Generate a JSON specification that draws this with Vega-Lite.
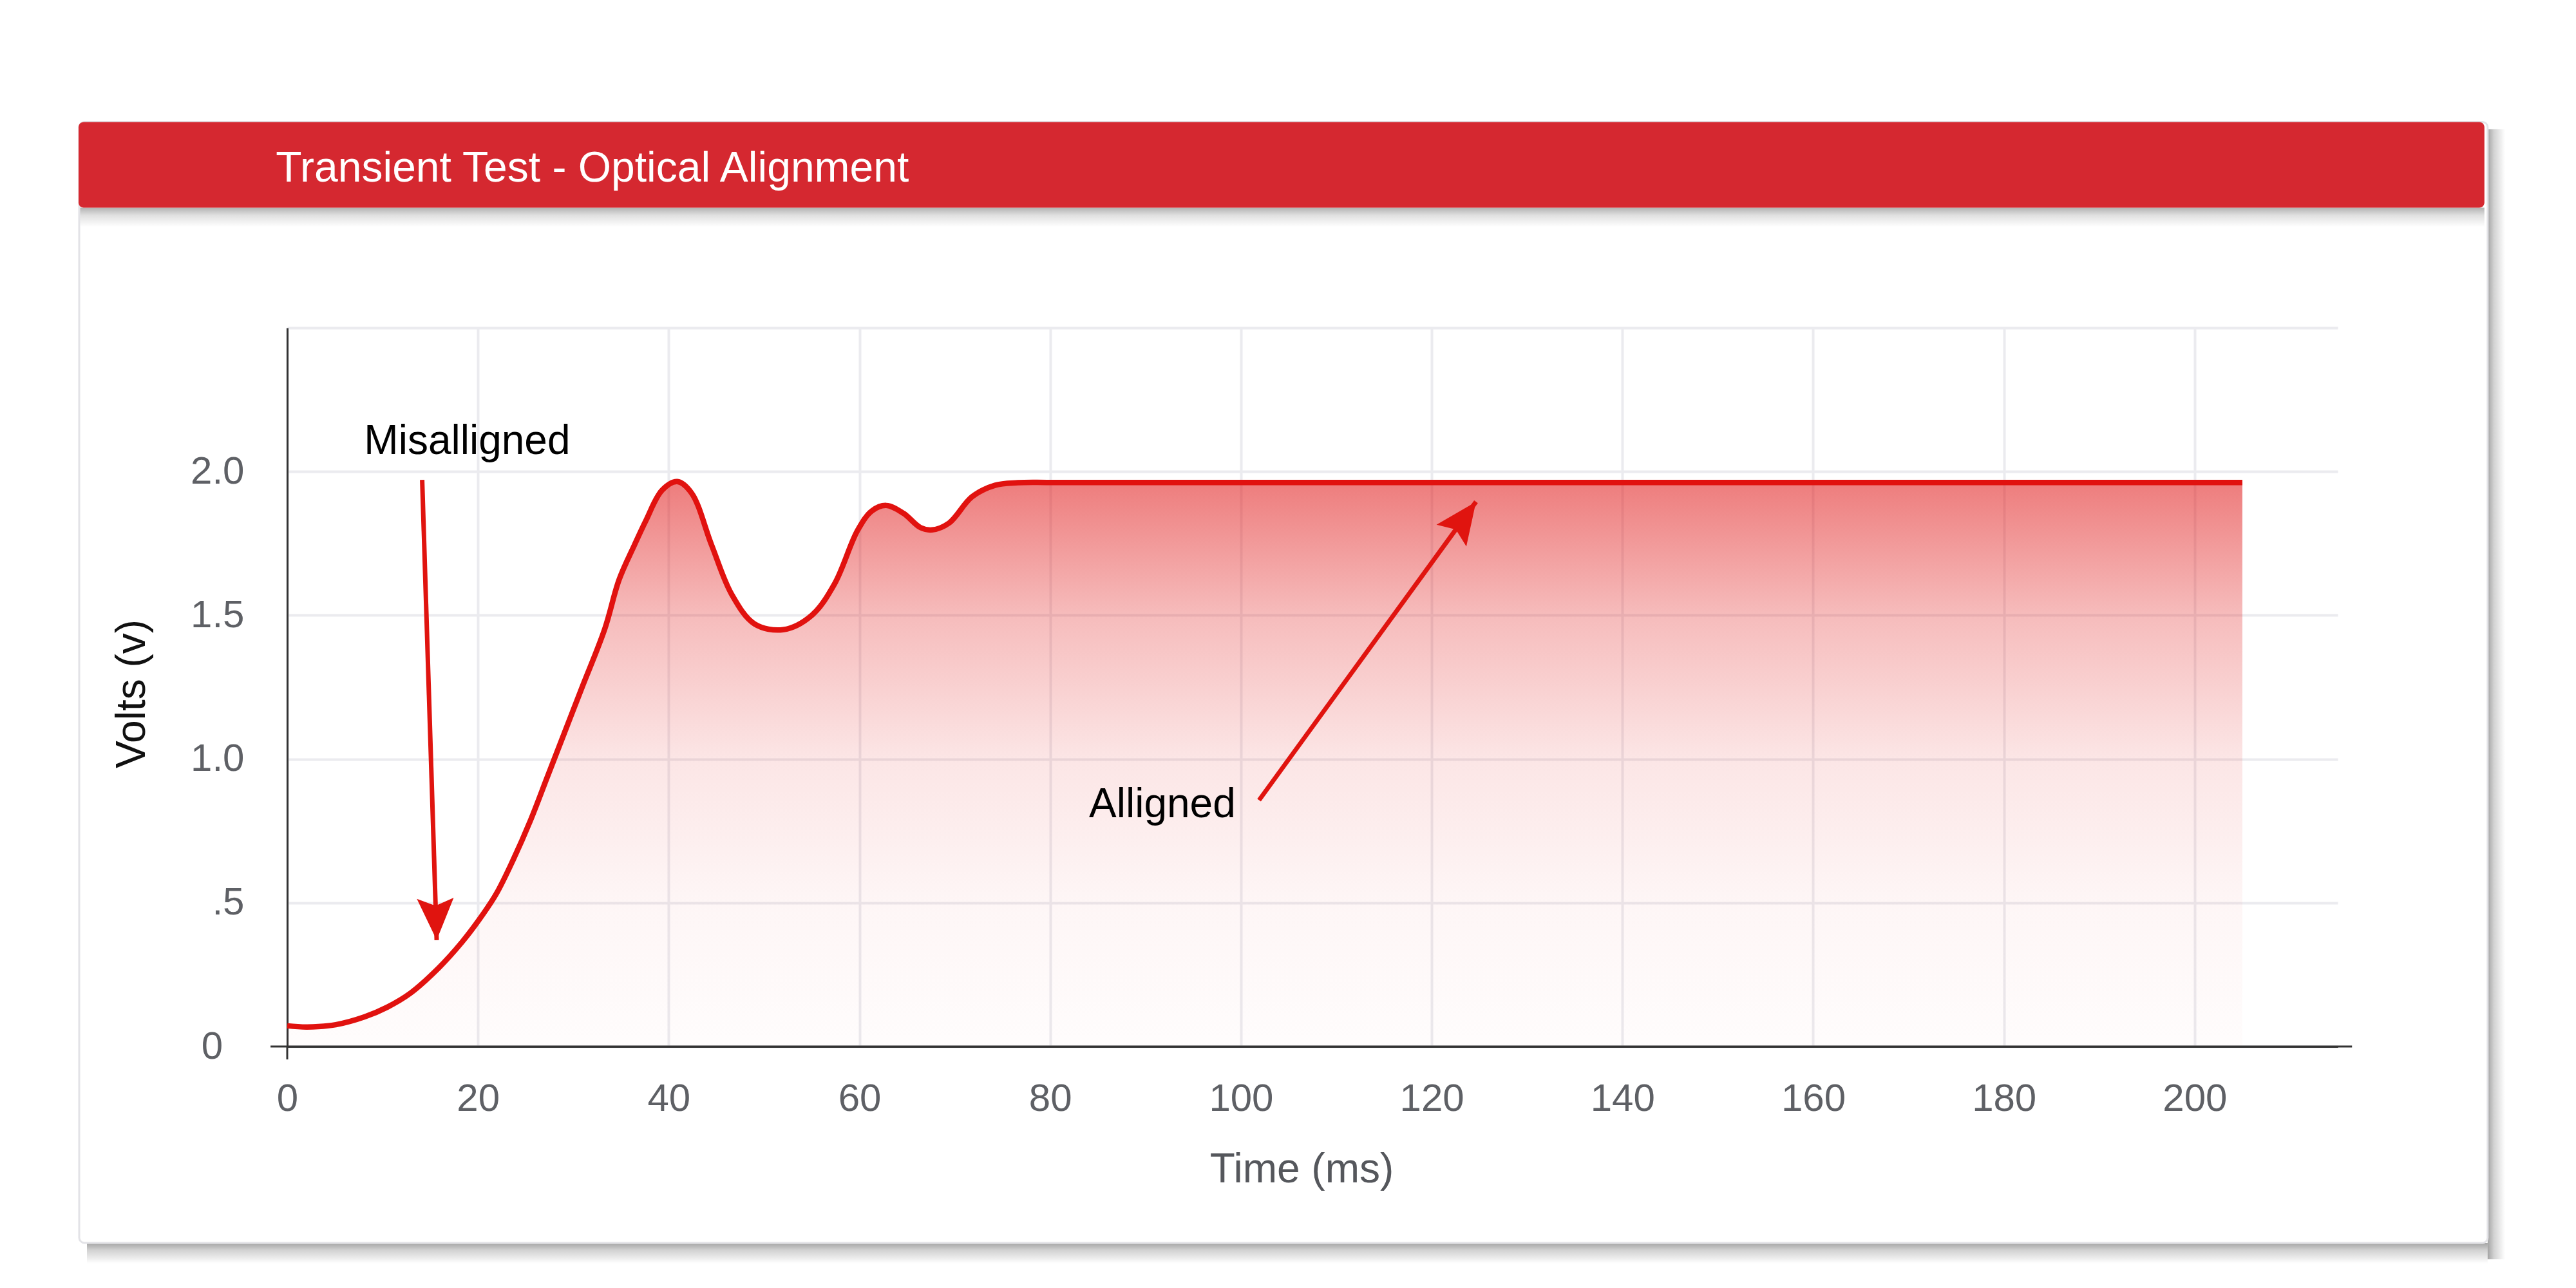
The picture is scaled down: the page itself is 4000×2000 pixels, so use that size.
{
  "$schema": "https://vega.github.io/schema/vega-lite/v6.json",
  "autosize": {"type": "none"},
  "padding": {"left": 446, "top": 509, "right": 370, "bottom": 375},
  "width": 3184,
  "height": 1116,
  "background": "white",
  "config": {"font": "Liberation Sans", "view": {"stroke": null}},
  "datasets": {
    "volts": [
      {"t": 0, "v": 0.072}, {"t": 2.1, "v": 0.068}, {"t": 5.1, "v": 0.076}, {"t": 8.1, "v": 0.103},
      {"t": 10.5, "v": 0.137}, {"t": 12.9, "v": 0.185}, {"t": 15.9, "v": 0.274}, {"t": 18.3, "v": 0.362},
      {"t": 20.1, "v": 0.44}, {"t": 21.9, "v": 0.53}, {"t": 23.7, "v": 0.65}, {"t": 25.5, "v": 0.786},
      {"t": 27.3, "v": 0.94}, {"t": 29.1, "v": 1.094}, {"t": 30.9, "v": 1.248}, {"t": 33.3, "v": 1.453},
      {"t": 34.8, "v": 1.624}, {"t": 36.4, "v": 1.744}, {"t": 37.6, "v": 1.829}, {"t": 39.3, "v": 1.935},
      {"t": 40.9, "v": 1.965}, {"t": 42.4, "v": 1.925}, {"t": 44.5, "v": 1.744}, {"t": 46.6, "v": 1.573},
      {"t": 49.0, "v": 1.47}, {"t": 52.0, "v": 1.45}, {"t": 55.0, "v": 1.5}, {"t": 57.4, "v": 1.61},
      {"t": 59.8, "v": 1.795}, {"t": 61.3, "v": 1.863}, {"t": 62.8, "v": 1.882}, {"t": 64.6, "v": 1.855},
      {"t": 66.4, "v": 1.805}, {"t": 67.6, "v": 1.797}, {"t": 69.4, "v": 1.821}, {"t": 71.8, "v": 1.912},
      {"t": 74.2, "v": 1.952}, {"t": 76.6, "v": 1.961}, {"t": 80, "v": 1.962}, {"t": 100, "v": 1.962},
      {"t": 140, "v": 1.962}, {"t": 180, "v": 1.962}, {"t": 205, "v": 1.962}
    ],
    "notes": [
      {"label": "Misalligned", "tx": 18.87, "ty": 2.06, "x": 14.15, "y": 1.971, "x2": 15.67, "y2": 0.37},
      {"label": "Alligned", "tx": 91.76, "ty": 0.797, "x": 101.9, "y": 0.857, "x2": 124.65, "y2": 1.895}
    ]
  },
  "layer": [
    {
      "data": {"name": "volts"},
      "mark": {
        "type": "area",
        "interpolate": "catmull-rom",
        "opacity": 1,
        "fill": {"gradient": "linear", "x1": 0, "y1": 0, "x2": 0, "y2": 1, "stops": [
          {"offset": 0, "color": "rgba(224,22,22,0.56)"},
          {"offset": 0.235, "color": "rgba(224,22,22,0.29)"},
          {"offset": 0.49, "color": "rgba(224,22,22,0.11)"},
          {"offset": 0.745, "color": "rgba(224,22,22,0.04)"},
          {"offset": 1, "color": "rgba(224,22,22,0.01)"}
        ]}
      },
      "encoding": {
        "x": {
          "field": "t", "type": "quantitative", "title": "Time (ms)",
          "scale": {"domain": [0, 215], "nice": false, "zero": false},
          "axis": {
            "title": "Time (ms)", "values": [0, 20, 40, 60, 80, 100, 120, 140, 160, 180, 200],
            "grid": true, "ticks": false, "tickSize": 0, "labelFlush": false, "labelOverlap": false,
            "labelPadding": 52, "labelFontSize": 60, "labelColor": "#5e6065",
            "titleFontSize": 64, "titleColor": "#55575c", "titleFontWeight": "normal", "titlePadding": 48, "titleX": 1575,
            "domainColor": "#333333", "domainWidth": 3, "gridColor": "#ebebef", "gridWidth": 4
          }
        },
        "y": {
          "field": "v", "type": "quantitative", "title": "Volts (v)",
          "scale": {"domain": [0, 2.5], "nice": false},
          "axis": {
            "title": "Volts (v)", "values": [0, 0.5, 1, 1.5, 2, 2.5],
            "labelExpr": "datum.value == 0 ? '0\u00a0\u00a0\u200b' : datum.value == 0.5 ? '.5' : datum.value >= 2.5 ? '' : format(datum.value, '.1f')",
            "grid": true, "ticks": false, "tickSize": 0, "labelFlush": false, "labelOverlap": false, "labelBaseline": "middle",
            "labelPadding": 67, "labelFontSize": 60, "labelColor": "#5e6065",
            "titleFontSize": 64, "titleColor": "#111111", "titleFontWeight": "normal", "titlePadding": 58, "titleY": 568,
            "domainColor": "#333333", "domainWidth": 3, "gridColor": "#ebebef", "gridWidth": 4
          }
        }
      }
    },
    {
      "data": {"name": "volts"},
      "mark": {"type": "line", "interpolate": "catmull-rom", "color": "#e1120f", "strokeWidth": 8.5},
      "encoding": {
        "x": {"field": "t", "type": "quantitative", "title": "Time (ms)"},
        "y": {"field": "v", "type": "quantitative", "title": "Volts (v)"}
      }
    },
    {
      "data": {"values": [{}]},
      "mark": {"type": "rule", "color": "#333333", "strokeWidth": 3},
      "encoding": {
        "x": {"datum": -1.75, "type": "quantitative", "title": "Time (ms)"},
        "x2": {"datum": 216.5},
        "y": {"datum": 0, "type": "quantitative", "title": "Volts (v)"}
      }
    },
    {
      "data": {"values": [{}]},
      "mark": {"type": "rule", "color": "#333333", "strokeWidth": 3},
      "encoding": {
        "x": {"datum": 0, "type": "quantitative", "title": "Time (ms)"},
        "y": {"datum": 0, "type": "quantitative", "title": "Volts (v)"},
        "y2": {"datum": -0.045}
      }
    },
    {
      "data": {"name": "notes"},
      "mark": {"type": "rule", "color": "#e0140f", "strokeWidth": 7},
      "encoding": {
        "x": {"field": "x", "type": "quantitative", "title": "Time (ms)"},
        "y": {"field": "y", "type": "quantitative", "title": "Volts (v)"},
        "x2": {"field": "x2", "title": "Time (ms)"},
        "y2": {"field": "y2", "title": "Volts (v)"}
      }
    },
    {
      "data": {"name": "notes"},
      "transform": [{"filter": "datum.label == 'Misalligned'"}],
      "mark": {"type": "point", "shape": "M0,0 L0.44,1 L0,0.82 L-0.44,1 Z", "filled": true, "color": "#e0140f", "opacity": 1, "size": 16900, "angle": 178.1, "strokeWidth": 0},
      "encoding": {
        "x": {"field": "x2", "type": "quantitative", "title": "Time (ms)"},
        "y": {"field": "y2", "type": "quantitative", "title": "Volts (v)"}
      }
    },
    {
      "data": {"name": "notes"},
      "transform": [{"filter": "datum.label == 'Alligned'"}],
      "mark": {"type": "point", "shape": "M0,0 L0.44,1 L0,0.82 L-0.44,1 Z", "filled": true, "color": "#e0140f", "opacity": 1, "size": 16900, "angle": 36.0, "strokeWidth": 0},
      "encoding": {
        "x": {"field": "x2", "type": "quantitative", "title": "Time (ms)"},
        "y": {"field": "y2", "type": "quantitative", "title": "Volts (v)"}
      }
    },
    {
      "data": {"name": "notes"},
      "mark": {"type": "text", "align": "center", "baseline": "alphabetic", "fontSize": 64, "color": "#000000"},
      "encoding": {
        "x": {"field": "tx", "type": "quantitative", "title": "Time (ms)"},
        "y": {"field": "ty", "type": "quantitative", "title": "Volts (v)"},
        "text": {"field": "label"}
      }
    },
    {
      "data": {"values": [{}]},
      "mark": {"type": "rect", "fill": {"gradient": "linear", "x1": 0, "y1": 0, "x2": 1, "y2": 0, "stops": [{"offset": 0, "color": "rgba(0,0,0,0.36)"}, {"offset": 0.35, "color": "rgba(0,0,0,0.18)"}, {"offset": 1, "color": "rgba(0,0,0,0)"}]}},
      "encoding": {
        "x": {"datum": 230.72, "type": "quantitative", "title": "Time (ms)"},
        "x2": {"datum": 232.55},
        "y": {"datum": 3.191, "type": "quantitative", "title": "Volts (v)"},
        "y2": {"datum": -0.74}
      }
    },
    {
      "data": {"values": [{}]},
      "mark": {"type": "rect", "fill": {"gradient": "linear", "x1": 0, "y1": 0, "x2": 0, "y2": 1, "stops": [{"offset": 0, "color": "rgba(0,0,0,0.36)"}, {"offset": 0.35, "color": "rgba(0,0,0,0.18)"}, {"offset": 1, "color": "rgba(0,0,0,0)"}]}},
      "encoding": {
        "x": {"datum": -21.0, "type": "quantitative", "title": "Time (ms)"},
        "x2": {"datum": 230.72},
        "y": {"datum": -0.683, "type": "quantitative", "title": "Volts (v)"},
        "y2": {"datum": -0.755}
      }
    },
    {
      "data": {"values": [{}]},
      "mark": {"type": "rect", "fill": {"gradient": "linear", "x1": 0, "y1": 0, "x2": 0, "y2": 1, "stops": [{"offset": 0, "color": "rgba(0,0,0,0.3)"}, {"offset": 0.4, "color": "rgba(0,0,0,0.12)"}, {"offset": 1, "color": "rgba(0,0,0,0)"}]}},
      "encoding": {
        "x": {"datum": -21.88, "type": "quantitative", "title": "Time (ms)"},
        "x2": {"datum": 230.38},
        "y": {"datum": 2.918, "type": "quantitative", "title": "Volts (v)"},
        "y2": {"datum": 2.851}
      }
    },
    {
      "data": {"values": [{}]},
      "mark": {"type": "rect", "filled": false, "color": "#e3e3e7", "strokeWidth": 3, "cornerRadius": 8},
      "encoding": {
        "x": {"datum": -21.81, "type": "quantitative", "title": "Time (ms)"},
        "x2": {"datum": 230.72},
        "y": {"datum": 3.216, "type": "quantitative", "title": "Volts (v)"},
        "y2": {"datum": -0.683}
      }
    },
    {
      "data": {"values": [{}]},
      "mark": {"type": "rect", "color": "#d52830", "cornerRadius": 8},
      "encoding": {
        "x": {"datum": -21.88, "type": "quantitative", "title": "Time (ms)"},
        "x2": {"datum": 230.38},
        "y": {"datum": 3.216, "type": "quantitative", "title": "Volts (v)"},
        "y2": {"datum": 2.918}
      }
    },
    {
      "data": {"values": [{}]},
      "mark": {"type": "text", "text": "Transient Test - Optical Alignment", "align": "left", "baseline": "alphabetic", "fontSize": 66, "color": "#ffffff"},
      "encoding": {
        "x": {"datum": -1.2, "type": "quantitative", "title": "Time (ms)"},
        "y": {"datum": 3.008, "type": "quantitative", "title": "Volts (v)"}
      }
    }
  ]
}
